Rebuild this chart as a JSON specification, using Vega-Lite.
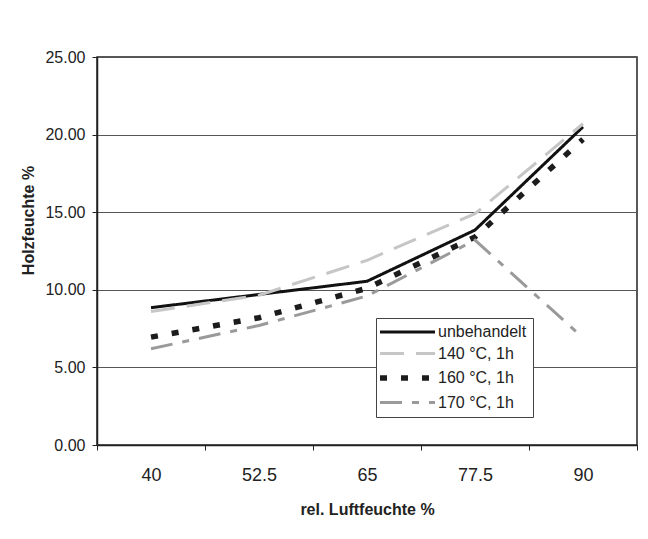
{
  "$schema": "https://vega.github.io/schema/vega-lite/v6.json",
  "width": 540,
  "height": 388,
  "autosize": {"type": "none"},
  "padding": {"left": 97, "top": 57, "right": 11, "bottom": 94},
  "background": "white",
  "data": {"values": [
    {"rh": "40", "series": "unbehandelt", "v": 8.85},
    {"rh": "52.5", "series": "unbehandelt", "v": 9.7},
    {"rh": "65", "series": "unbehandelt", "v": 10.55},
    {"rh": "77.5", "series": "unbehandelt", "v": 13.85},
    {"rh": "90", "series": "unbehandelt", "v": 20.5},
    {"rh": "40", "series": "140 °C, 1h", "v": 8.6},
    {"rh": "52.5", "series": "140 °C, 1h", "v": 9.65},
    {"rh": "65", "series": "140 °C, 1h", "v": 11.9},
    {"rh": "77.5", "series": "140 °C, 1h", "v": 14.9},
    {"rh": "90", "series": "140 °C, 1h", "v": 20.7},
    {"rh": "40", "series": "160 °C, 1h", "v": 6.95},
    {"rh": "52.5", "series": "160 °C, 1h", "v": 8.2},
    {"rh": "65", "series": "160 °C, 1h", "v": 10.1},
    {"rh": "77.5", "series": "160 °C, 1h", "v": 13.4},
    {"rh": "90", "series": "160 °C, 1h", "v": 19.7},
    {"rh": "40", "series": "170 °C, 1h", "v": 6.2},
    {"rh": "52.5", "series": "170 °C, 1h", "v": 7.7},
    {"rh": "65", "series": "170 °C, 1h", "v": 9.6},
    {"rh": "77.5", "series": "170 °C, 1h", "v": 13.2},
    {"rh": "90", "series": "170 °C, 1h", "v": 6.9}
  ]},
  "mark": {"type": "line", "strokeCap": "butt"},
  "encoding": {
    "x": {
      "field": "rh", "type": "ordinal",
      "sort": ["40", "52.5", "65", "77.5", "90"],
      "scale": {"type": "band", "paddingInner": 0, "paddingOuter": 0},
      "axis": {
        "title": "rel. Luftfeuchte %",
        "labelAngle": 0,
        "tickBand": "extent",
        "labelFontSize": 18,
        "labelPadding": 16,
        "titleFontSize": 16,
        "titlePadding": 17,
        "grid": false
      }
    },
    "y": {
      "field": "v", "type": "quantitative",
      "scale": {"domain": [0, 25], "nice": false},
      "axis": {
        "title": "Holzfeuchte %",
        "values": [0, 5, 10, 15, 20, 25],
        "format": ".2f",
        "labelFontSize": 16,
        "labelPadding": 7,
        "titleFontSize": 16,
        "titleX": -69,
        "titleY": 163,
        "titleAngle": -90,
        "titleBaseline": "middle",
        "titleAlign": "center",
        "grid": true
      }
    },
    "color": {
      "field": "series", "type": "nominal",
      "scale": {
        "domain": ["unbehandelt", "140 °C, 1h", "160 °C, 1h", "170 °C, 1h"],
        "range": ["#111111", "#c6c6c6", "#1c1c1c", "#9a9a9a"]
      },
      "legend": {
        "title": null,
        "encode": {"symbols": {"update": {"strokeWidth": {"signal": "datum.value === '160 °C, 1h' ? 5.5 : 3"}}}}
      }
    },
    "strokeDash": {
      "field": "series", "type": "nominal",
      "scale": {
        "domain": ["unbehandelt", "140 °C, 1h", "160 °C, 1h", "170 °C, 1h"],
        "range": [[1, 0], [24, 12], [7, 14], [22, 10, 7, 10]]
      },
      "legend": {"title": null}
    },
    "strokeWidth": {
      "condition": {"test": "datum.series === '160 °C, 1h'", "value": 5.5},
      "value": 3
    }
  },
  "config": {
    "font": "Liberation Sans",
    "view": {"stroke": "#222", "strokeWidth": 1.5},
    "axis": {
      "domainColor": "#222",
      "domainWidth": 1.5,
      "tickColor": "#222",
      "tickSize": 5,
      "tickWidth": 1,
      "labelColor": "#222",
      "titleColor": "#222",
      "titleFontWeight": "bold",
      "gridColor": "#555",
      "gridWidth": 1,
      "gridOpacity": 1
    },
    "legend": {
      "orient": "none",
      "legendX": 279,
      "legendY": 261,
      "symbolType": "M-1,0H4.5",
      "symbolSize": 400,
      "symbolOpacity": 1,
      "labelFontSize": 16,
      "labelColor": "#222",
      "labelOffset": 40,
      "strokeColor": "#444",
      "fillColor": "white",
      "padding": 6,
      "rowPadding": 5.5
    }
  }
}
